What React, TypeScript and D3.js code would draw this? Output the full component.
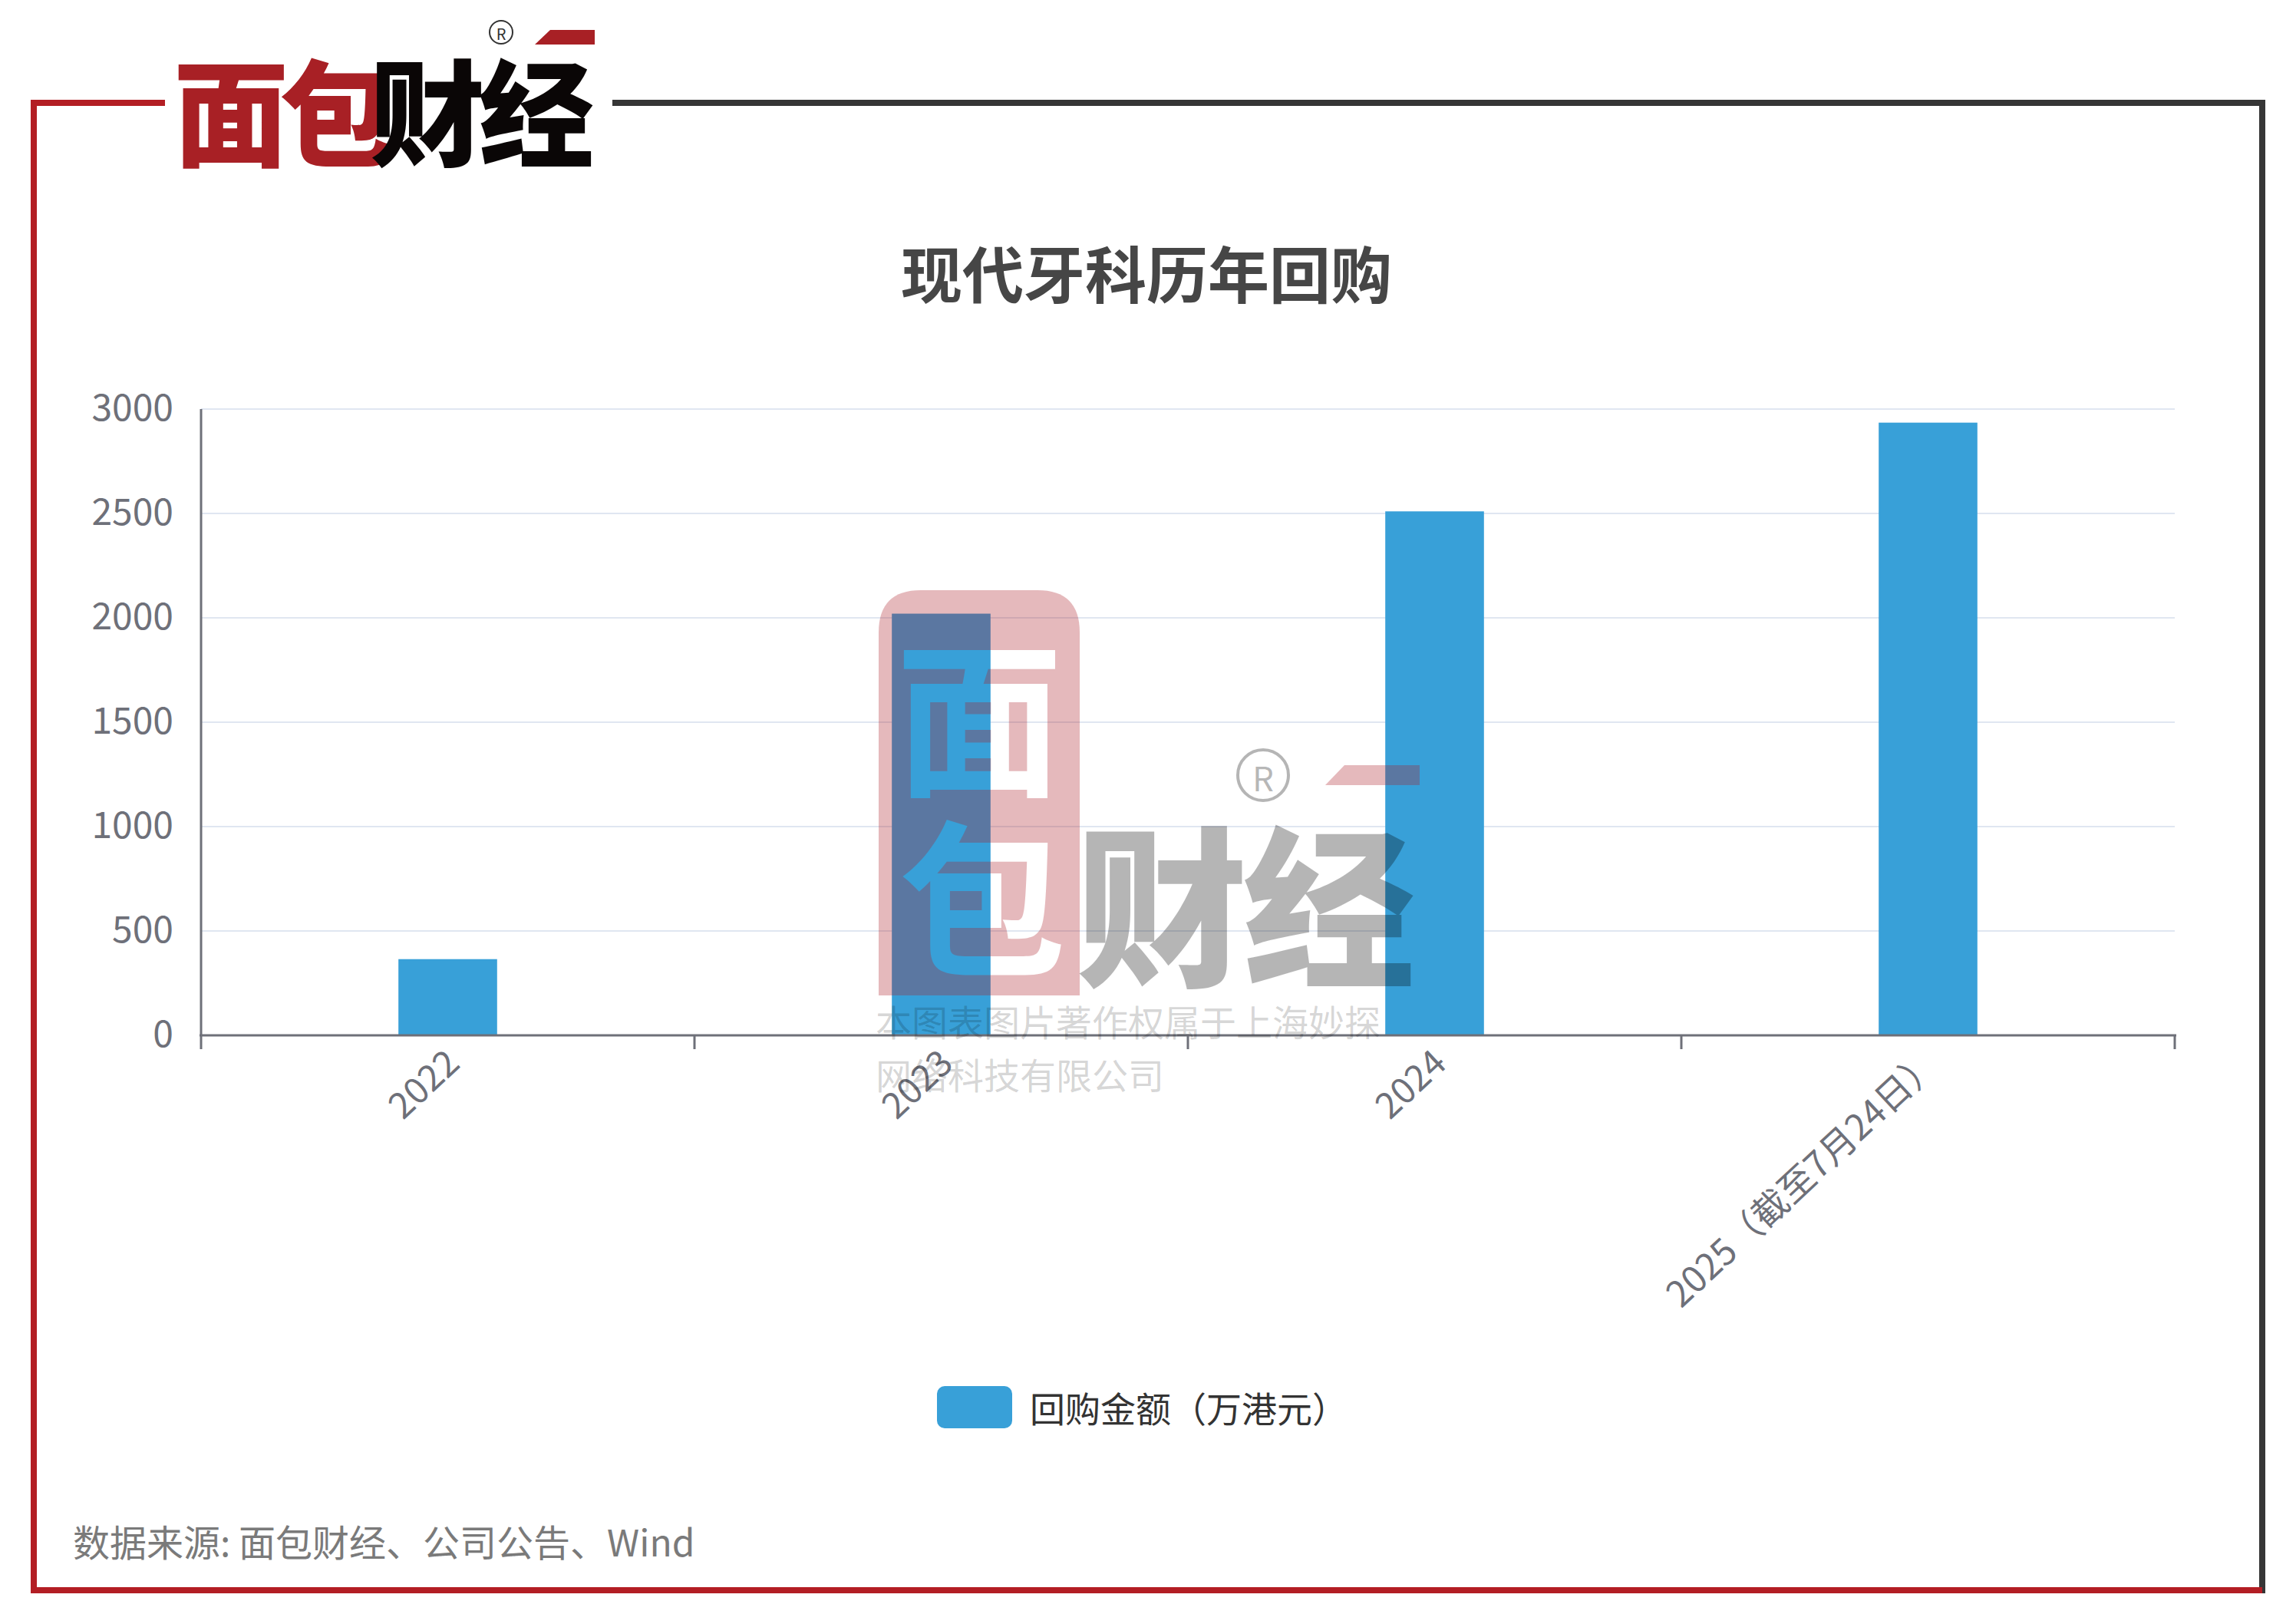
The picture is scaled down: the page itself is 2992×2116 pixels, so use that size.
import React from "react";
import * as d3 from "d3";

const categories = ["2022", "2023", "2024", "2025（截至7月24日）"];
const buybackValues = [365, 2020, 2510, 2935];
const yTicks = [0, 500, 1000, 1500, 2000, 2500, 3000];
const titleText = "现代牙科历年回购";
const legendLabel = "回购金额（万港元）";
const sourceText = "数据来源: 面包财经、公司公告、Wind";
const watermarkLines = ["本图表图片著作权属于上海妙探", "网络科技有限公司"];

const W = 2992;
const H = 2116;
const FONT = "'Noto Sans CJK SC', 'Noto Sans', sans-serif";
const BAR = "#38a0d8";
const AXIS = "#6e7079";
const GRID = "#e0e6f1";
const FRAME_RED = "#b31e24";
const FRAME_DARK = "#363636";
const LOGO_RED = "#a82025";

export default function App() {
  const x = d3.scaleBand<string>().domain(categories).range([262, 2834]).paddingInner(0).paddingOuter(0);
  const y = d3.scaleLinear().domain([0, 3000]).range([1349, 533]);
  const bw = x.bandwidth() * 0.2;
  const boundaries = [...categories.map((c) => x(c) as number), 2834];

  const bx0 = 1145, bx1 = 1407, by0 = 769, by1 = 1297, r = 55;
  const blockPath = `M${bx0},${by1} L${bx0},${by0 + r} Q${bx0},${by0} ${bx0 + r},${by0} L${bx1 - r},${by0} Q${bx1},${by0} ${bx1},${by0 + r} L${bx1},${by1} Z`;

  return (
    <svg
      width={W}
      height={H}
      viewBox={`0 0 ${W} ${H}`}
      style={{ position: "absolute", left: 0, top: 0, background: "#fff" }}
      fontFamily={FONT}
    >
      <defs>
        <mask id="wmMask" maskUnits="userSpaceOnUse" x={0} y={0} width={W} height={H}>
          <rect x={0} y={0} width={W} height={H} fill="#fff" />
          <text x={1276} y={925} fontSize={218} fontWeight={700} textAnchor="middle" dominantBaseline="central" fill="#000">面</text>
          <text x={1280} y={1160} fontSize={218} fontWeight={700} textAnchor="middle" dominantBaseline="central" fill="#000">包</text>
        </mask>
      </defs>
      <rect x={0} y={0} width={W} height={H} fill="#fff" />

      {/* frame */}
      <rect x={40} y={130} width={175} height={8} fill={FRAME_RED} />
      <rect x={798} y={130} width={2154} height={8} fill={FRAME_DARK} />
      <rect x={2944} y={130} width={8} height={1946} fill={FRAME_DARK} />
      <rect x={40} y={130} width={8} height={1946} fill={FRAME_RED} />
      <rect x={40} y={2068} width={2908} height={8} fill={FRAME_RED} />

      {/* top-left logo */}
      <g>
        <text x={226} y={139} fontSize={150} fontWeight={900} dominantBaseline="central" fill={LOGO_RED} letterSpacing={-12}>面包</text>
        <text x={482} y={139} fontSize={150} fontWeight={900} dominantBaseline="central" fill="#0a0606" letterSpacing={-8}>财经</text>
        <circle cx={653} cy={42} r={15} fill="none" stroke="#333" strokeWidth={2} />
        <text x={653} y={43} fontSize={20} textAnchor="middle" dominantBaseline="central" fill="#333">R</text>
        <polygon points="717,39 775,39 775,58 697,58" fill={LOGO_RED} />
      </g>

      {/* title */}
      <text x={1494} y={353} fontSize={80} fontWeight={700} textAnchor="middle" dominantBaseline="central" fill="#464646">{titleText}</text>

      {/* grid */}
      {yTicks.filter((t) => t > 0).map((t) => (
        <line key={t} x1={262} x2={2834} y1={y(t)} y2={y(t)} stroke={GRID} strokeWidth={2} />
      ))}
      {/* y labels */}
      {yTicks.map((t) => (
        <text key={t} x={226} y={y(t) - 6} fontSize={48} textAnchor="end" dominantBaseline="central" fill={AXIS}>{t}</text>
      ))}

      {/* bars */}
      {categories.map((c, i) => (
        <rect
          key={c}
          x={(x(c) as number) + x.bandwidth() / 2 - bw / 2}
          y={y(buybackValues[i])}
          width={bw}
          height={y(0) - y(buybackValues[i])}
          fill={BAR}
        />
      ))}

      {/* axes */}
      <line x1={262} x2={262} y1={533} y2={1349} stroke={AXIS} strokeWidth={3} />
      <line x1={260} x2={2836} y1={1349} y2={1349} stroke={AXIS} strokeWidth={3} />
      {boundaries.map((b, i) => (
        <line key={i} x1={b} x2={b} y1={1349} y2={1367} stroke={AXIS} strokeWidth={3} />
      ))}
      {categories.map((c) => (
        <text
          key={c}
          transform={`translate(${(x(c) as number) + x.bandwidth() / 2 + 4},1374) rotate(-43)`}
          fontSize={47}
          textAnchor="end"
          dominantBaseline="central"
          fill={AXIS}
        >
          {c}
        </text>
      ))}

      {/* watermark */}
      <g>
        <path d={blockPath} fill="rgba(170,30,40,0.31)" mask="url(#wmMask)" />
        <text x={1402} y={1170} fontSize={224} fontWeight={900} dominantBaseline="central" fill="rgba(0,0,0,0.29)" letterSpacing={-6}>财经</text>
        <circle cx={1646} cy={1010} r={33} fill="none" stroke="rgba(0,0,0,0.29)" strokeWidth={4} />
        <text x={1646} y={1012} fontSize={44} textAnchor="middle" dominantBaseline="central" fill="rgba(0,0,0,0.29)">R</text>
        <polygon points="1752,997 1850,997 1850,1023 1727,1023" fill="rgba(170,30,40,0.31)" />
        {watermarkLines.map((l, i) => (
          <text key={i} x={1141} y={1329 + i * 69} fontSize={47} dominantBaseline="central" fill="rgba(0,0,0,0.18)">{l}</text>
        ))}
      </g>

      {/* legend */}
      <rect x={1221} y={1806} width={98} height={55} rx={10} fill={BAR} />
      <text x={1342} y={1833} fontSize={46} dominantBaseline="central" fill="#333">{legendLabel}</text>

      {/* source */}
      <text x={95} y={2007} fontSize={48} dominantBaseline="central" fill="#7a7a7a">{sourceText}</text>
    </svg>
  );
}
